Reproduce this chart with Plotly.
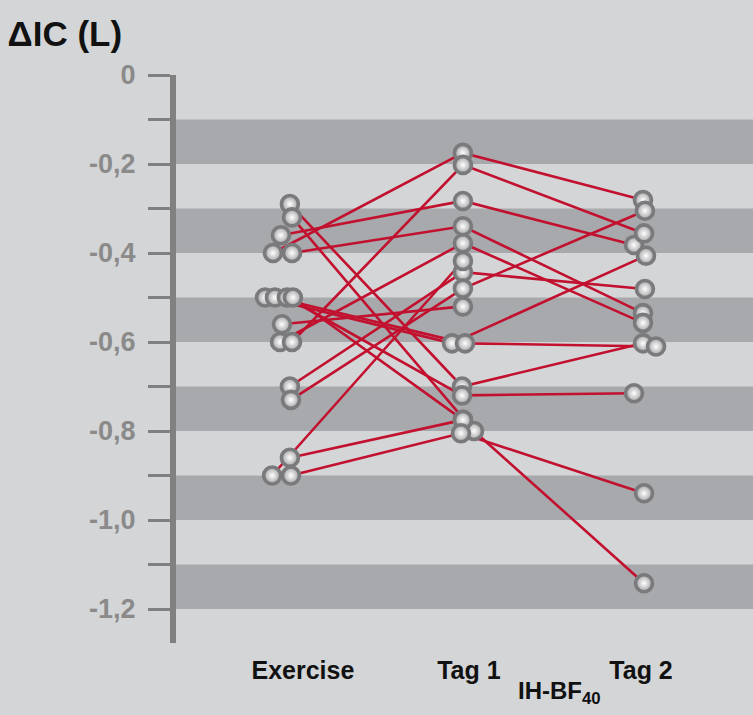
import plotly.graph_objects as go

# ---- data ----
categories = ["Exercise", "Tag 1", "Tag 2"]
# one entry per subject: ΔIC (L) at Exercise, Tag 1 and Tag 2 (None = not measured)
exercise = [-0.29, -0.32, -0.36, -0.40, -0.40, -0.50, -0.50, -0.50, -0.50,
            -0.56, -0.60, -0.60, -0.70, -0.73, -0.86, -0.90, -0.90]
tag1 = [-0.70, -0.80, -0.283, -0.175, -0.34, -0.603, -0.603, -0.72, -0.775,
        -0.52, -0.378, -0.202, -0.443, -0.48, -0.775, -0.418, -0.805]
tag2 = [-0.603, -1.142, -0.382, -0.281, -0.535, -0.406, -0.61, -0.715, None,
        None, -0.557, -0.356, -0.481, -0.305, None, None, -0.94]
# small horizontal jitter of the dots (category units)
jit_ex = [0.011, 0.023, -0.04, -0.085, 0.023, -0.13, -0.074, -0.006, 0.028,
          -0.034, -0.045, 0.023, 0.011, 0.017, 0.011, -0.09, 0.017]
jit_t1 = [-0.011, 0.057, -0.006, -0.006, -0.006, -0.068, 0.006, -0.011, -0.006,
          -0.006, -0.006, -0.006, -0.006, -0.006, -0.006, -0.006, -0.017]
jit_t2 = [0.017, 0.023, -0.034, 0.017, 0.017, 0.034, 0.091, -0.034, 0.0,
          0.0, 0.017, 0.023, 0.028, 0.028, 0.0, 0.0, 0.023]

ytick_vals = [0, -0.2, -0.4, -0.6, -0.8, -1.0, -1.2]
ytick_text = ["0", "-0,2", "-0,4", "-0,6", "-0,8", "-1,0", "-1,2"]
xlabel_pos = [0.085, 1.028, 2.006]

# ---- styles ----
BG = "#d4d5d7"
BAND = "#a8a9ac"
AXIS = "#808080"
RED = "#c2102f"
FONT = "Liberation Sans, Arial, sans-serif"

# build line & marker coordinates
lx, ly, mx, my = [], [], [], []
for i in range(len(exercise)):
    pts = [(0 + jit_ex[i], exercise[i]), (1 + jit_t1[i], tag1[i])]
    if tag2[i] is not None:
        pts.append((2 + jit_t2[i], tag2[i]))
    for x, y in pts:
        lx.append(x); ly.append(y)
        mx.append(x); my.append(y)
    lx.append(None); ly.append(None)

fig = go.Figure()
fig.add_trace(go.Scatter(x=lx, y=ly, mode="lines",
                         line=dict(color=RED, width=2.6),
                         hoverinfo="skip", showlegend=False))
fig.add_trace(go.Scatter(x=mx, y=my, mode="markers",
                         marker=dict(size=17, color="#a2a2a5",
                                     gradient=dict(type="radial", color="#ffffff"),
                                     line=dict(color="#7a7a7c", width=3.6)),
                         showlegend=False))

# alternating dark bands
shapes = []
for k in range(6):
    y0 = -(0.1 + 0.2 * k)
    shapes.append(dict(type="rect", xref="paper", yref="y", x0=0, x1=1,
                       y0=y0, y1=y0 - 0.1, fillcolor=BAND, line=dict(width=0),
                       layer="below"))

fig.update_layout(
    width=753, height=715, autosize=False,
    margin=dict(l=176, r=0, t=75, b=72),
    paper_bgcolor=BG, plot_bgcolor=BG,
    shapes=shapes,
    title=dict(text="ΔIC (L)", x=0.01, xanchor="left", y=0.953, yanchor="middle",
               font=dict(family=FONT, size=35, color="#111111", weight="bold")),
    xaxis=dict(range=[-0.636, 2.642], showgrid=False, zeroline=False, showline=False,
               tickvals=xlabel_pos, ticktext=categories, ticks="",
               tickfont=dict(family=FONT, size=25, color="#111111", weight="bold"),
               ticklabelstandoff=10),
    yaxis=dict(range=[-1.2764, 0], showgrid=False, zeroline=False,
               showline=True, linecolor=AXIS, linewidth=6,
               tickvals=ytick_vals, ticktext=ytick_text,
               ticks="outside", ticklen=22, tickwidth=3, tickcolor=AXIS,
               minor=dict(dtick=0.1, tick0=0, ticks="outside", ticklen=22,
                          tickwidth=3, tickcolor=AXIS),
               tickfont=dict(family=FONT, size=27, color="#8a8a8a", weight="bold"),
               ticklabelstandoff=7),
    annotations=[dict(text="IH-BF<sub>40</sub>", xref="x", yref="paper",
                      x=1.545, y=-0.088, xanchor="center", yanchor="middle",
                      showarrow=False,
                      font=dict(family=FONT, size=24, color="#111111", weight="bold"))],
)

fig.write_html("out.html",
               config={"displayModeBar": False},
               post_script="document.body.style.margin='0';"
                           "document.body.style.background='" + BG + "';")
